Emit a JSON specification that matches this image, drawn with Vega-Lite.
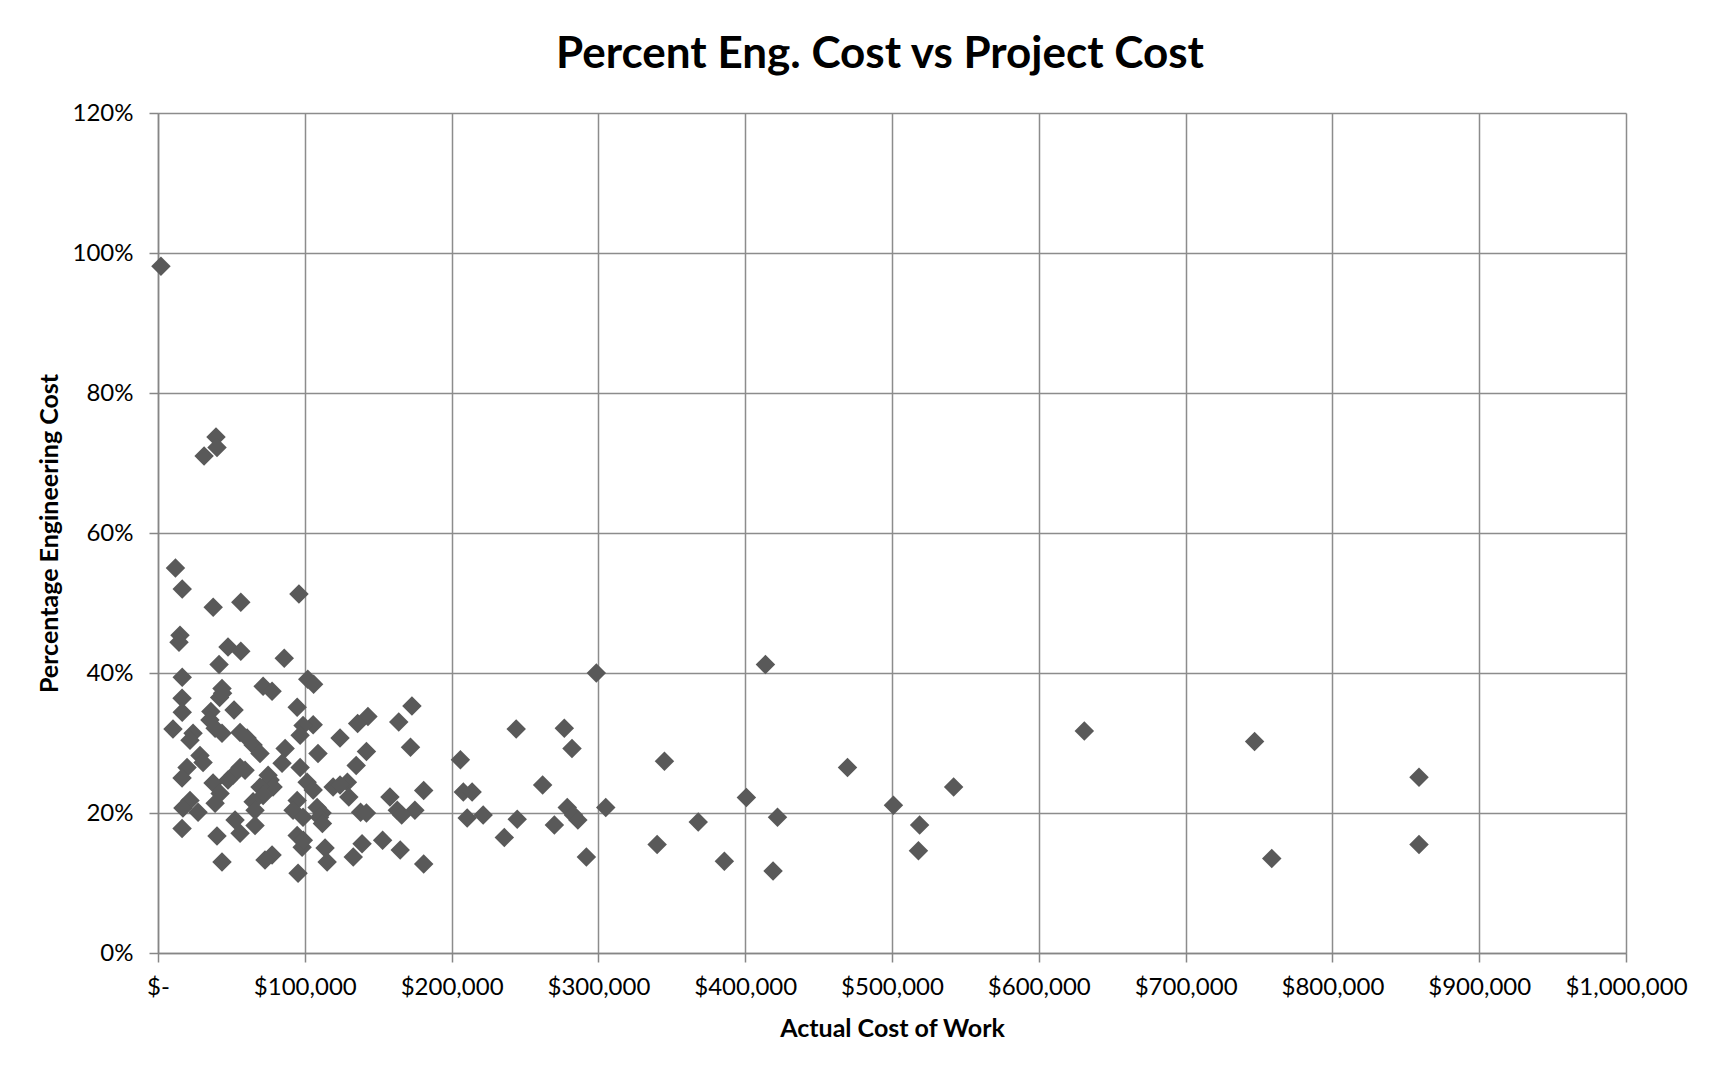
{
  "$schema": "https://vega.github.io/schema/vega-lite/v6.json",
  "width": 1468,
  "height": 840,
  "autosize": {"type": "none"},
  "padding": {"left": 158, "top": 113, "right": 96, "bottom": 122},
  "background": "white",
  "title": {"text": "Percent Eng. Cost vs Project Cost", "font": "Lato", "fontSize": 44, "fontWeight": "bold", "color": "black", "frame": "group", "anchor": "middle", "baseline": "alphabetic", "offset": 44, "dy": 55, "dx": -12},
  "data": {"values": [
    {"cost": 2000, "pct": 0.981},
    {"cost": 31400, "pct": 0.710},
    {"cost": 39500, "pct": 0.737},
    {"cost": 40200, "pct": 0.722},
    {"cost": 11900, "pct": 0.550},
    {"cost": 16500, "pct": 0.520},
    {"cost": 37600, "pct": 0.494},
    {"cost": 56400, "pct": 0.501},
    {"cost": 96000, "pct": 0.513},
    {"cost": 15000, "pct": 0.454},
    {"cost": 14300, "pct": 0.444},
    {"cost": 47700, "pct": 0.437},
    {"cost": 56400, "pct": 0.431},
    {"cost": 41600, "pct": 0.412},
    {"cost": 86000, "pct": 0.421},
    {"cost": 16500, "pct": 0.394},
    {"cost": 102000, "pct": 0.391},
    {"cost": 106000, "pct": 0.384},
    {"cost": 71600, "pct": 0.381},
    {"cost": 77700, "pct": 0.374},
    {"cost": 43600, "pct": 0.378},
    {"cost": 16400, "pct": 0.364},
    {"cost": 42000, "pct": 0.365},
    {"cost": 44000, "pct": 0.371},
    {"cost": 94800, "pct": 0.351},
    {"cost": 16500, "pct": 0.344},
    {"cost": 51800, "pct": 0.347},
    {"cost": 36000, "pct": 0.345},
    {"cost": 105700, "pct": 0.326},
    {"cost": 10200, "pct": 0.320},
    {"cost": 23900, "pct": 0.314},
    {"cost": 21800, "pct": 0.304},
    {"cost": 35400, "pct": 0.333},
    {"cost": 38900, "pct": 0.321},
    {"cost": 43600, "pct": 0.314},
    {"cost": 55900, "pct": 0.315},
    {"cost": 60700, "pct": 0.307},
    {"cost": 64800, "pct": 0.297},
    {"cost": 69500, "pct": 0.285},
    {"cost": 98800, "pct": 0.325},
    {"cost": 96800, "pct": 0.311},
    {"cost": 109000, "pct": 0.285},
    {"cost": 86600, "pct": 0.292},
    {"cost": 28600, "pct": 0.282},
    {"cost": 30700, "pct": 0.272},
    {"cost": 19800, "pct": 0.265},
    {"cost": 16400, "pct": 0.250},
    {"cost": 84500, "pct": 0.271},
    {"cost": 96800, "pct": 0.265},
    {"cost": 55900, "pct": 0.265},
    {"cost": 59300, "pct": 0.261},
    {"cost": 51100, "pct": 0.254},
    {"cost": 47700, "pct": 0.247},
    {"cost": 37500, "pct": 0.243},
    {"cost": 42300, "pct": 0.228},
    {"cost": 75000, "pct": 0.254},
    {"cost": 76400, "pct": 0.247},
    {"cost": 78400, "pct": 0.237},
    {"cost": 101600, "pct": 0.244},
    {"cost": 105700, "pct": 0.233},
    {"cost": 119300, "pct": 0.237},
    {"cost": 69500, "pct": 0.237},
    {"cost": 71600, "pct": 0.225},
    {"cost": 21800, "pct": 0.218},
    {"cost": 27300, "pct": 0.201},
    {"cost": 17000, "pct": 0.207},
    {"cost": 38900, "pct": 0.214},
    {"cost": 64800, "pct": 0.216},
    {"cost": 66100, "pct": 0.204},
    {"cost": 94800, "pct": 0.218},
    {"cost": 92000, "pct": 0.204},
    {"cost": 108400, "pct": 0.208},
    {"cost": 111800, "pct": 0.200},
    {"cost": 98800, "pct": 0.194},
    {"cost": 52500, "pct": 0.190},
    {"cost": 55900, "pct": 0.171},
    {"cost": 66100, "pct": 0.182},
    {"cost": 16400, "pct": 0.178},
    {"cost": 40200, "pct": 0.167},
    {"cost": 94800, "pct": 0.168},
    {"cost": 98200, "pct": 0.151},
    {"cost": 113800, "pct": 0.150},
    {"cost": 115200, "pct": 0.130},
    {"cost": 77700, "pct": 0.140},
    {"cost": 72900, "pct": 0.133},
    {"cost": 43600, "pct": 0.130},
    {"cost": 95400, "pct": 0.114},
    {"cost": 173000, "pct": 0.353},
    {"cost": 143000, "pct": 0.338},
    {"cost": 136000, "pct": 0.328},
    {"cost": 164000, "pct": 0.330},
    {"cost": 124000, "pct": 0.307},
    {"cost": 142000, "pct": 0.288},
    {"cost": 172000, "pct": 0.294},
    {"cost": 135000, "pct": 0.268},
    {"cost": 206000, "pct": 0.276},
    {"cost": 129000, "pct": 0.244},
    {"cost": 124000, "pct": 0.240},
    {"cost": 181000, "pct": 0.232},
    {"cost": 208000, "pct": 0.230},
    {"cost": 214000, "pct": 0.230},
    {"cost": 158000, "pct": 0.223},
    {"cost": 130000, "pct": 0.223},
    {"cost": 138000, "pct": 0.201},
    {"cost": 142000, "pct": 0.200},
    {"cost": 163000, "pct": 0.204},
    {"cost": 175000, "pct": 0.204},
    {"cost": 166000, "pct": 0.197},
    {"cost": 110000, "pct": 0.194},
    {"cost": 112000, "pct": 0.185},
    {"cost": 139000, "pct": 0.156},
    {"cost": 153000, "pct": 0.161},
    {"cost": 165000, "pct": 0.147},
    {"cost": 133000, "pct": 0.137},
    {"cost": 181000, "pct": 0.127},
    {"cost": 99000, "pct": 0.161},
    {"cost": 298600, "pct": 0.400},
    {"cost": 413800, "pct": 0.412},
    {"cost": 244000, "pct": 0.320},
    {"cost": 276800, "pct": 0.321},
    {"cost": 282000, "pct": 0.292},
    {"cost": 345000, "pct": 0.274},
    {"cost": 469700, "pct": 0.265},
    {"cost": 262000, "pct": 0.240},
    {"cost": 278800, "pct": 0.208},
    {"cost": 305000, "pct": 0.208},
    {"cost": 400800, "pct": 0.222},
    {"cost": 283000, "pct": 0.197},
    {"cost": 286000, "pct": 0.190},
    {"cost": 210600, "pct": 0.193},
    {"cost": 221500, "pct": 0.197},
    {"cost": 244700, "pct": 0.191},
    {"cost": 270000, "pct": 0.183},
    {"cost": 368000, "pct": 0.187},
    {"cost": 422000, "pct": 0.194},
    {"cost": 235900, "pct": 0.165},
    {"cost": 340000, "pct": 0.155},
    {"cost": 291800, "pct": 0.137},
    {"cost": 385800, "pct": 0.131},
    {"cost": 419000, "pct": 0.117},
    {"cost": 631000, "pct": 0.317},
    {"cost": 542000, "pct": 0.237},
    {"cost": 501000, "pct": 0.211},
    {"cost": 518800, "pct": 0.183},
    {"cost": 518000, "pct": 0.146},
    {"cost": 747000, "pct": 0.302},
    {"cost": 859000, "pct": 0.251},
    {"cost": 758700, "pct": 0.135},
    {"cost": 859000, "pct": 0.155}
  ]},
  "mark": {"type": "point", "shape": "diamond", "filled": true, "size": 380, "color": "#595959", "opacity": 1},
  "encoding": {
    "x": {
      "field": "cost", "type": "quantitative",
      "scale": {"domain": [0, 1000000], "nice": false},
      "axis": {
        "title": "Actual Cost of Work",
        "values": [0, 100000, 200000, 300000, 400000, 500000, 600000, 700000, 800000, 900000, 1000000],
        "labelExpr": "datum.value == 0 ? '$-' : '$' + format(datum.value, ',')",
        "labelPadding": 13,
        "titlePadding": 17,
        "labelFlush": false,
        "labelOverlap": false
      }
    },
    "y": {
      "field": "pct", "type": "quantitative",
      "scale": {"domain": [0, 1.2], "nice": false},
      "axis": {
        "title": "Percentage Engineering Cost",
        "values": [0, 0.2, 0.4, 0.6, 0.8, 1.0, 1.2],
        "format": ".0%",
        "labelPadding": 16,
        "titlePadding": 10,
        "labelFlush": false,
        "labelOverlap": false
      }
    }
  },
  "config": {
    "view": {"stroke": null},
    "axis": {
      "domainColor": "#868686", "domainWidth": 1.5,
      "gridColor": "#8c8c8c", "gridWidth": 1.5, "grid": true,
      "tickColor": "#868686", "tickWidth": 1.5, "tickSize": 9,
      "labelFont": "Lato", "labelFontSize": 24, "labelColor": "black",
      "titleFont": "Lato", "titleFontSize": 25, "titleFontWeight": "bold", "titleColor": "black"
    }
  }
}
